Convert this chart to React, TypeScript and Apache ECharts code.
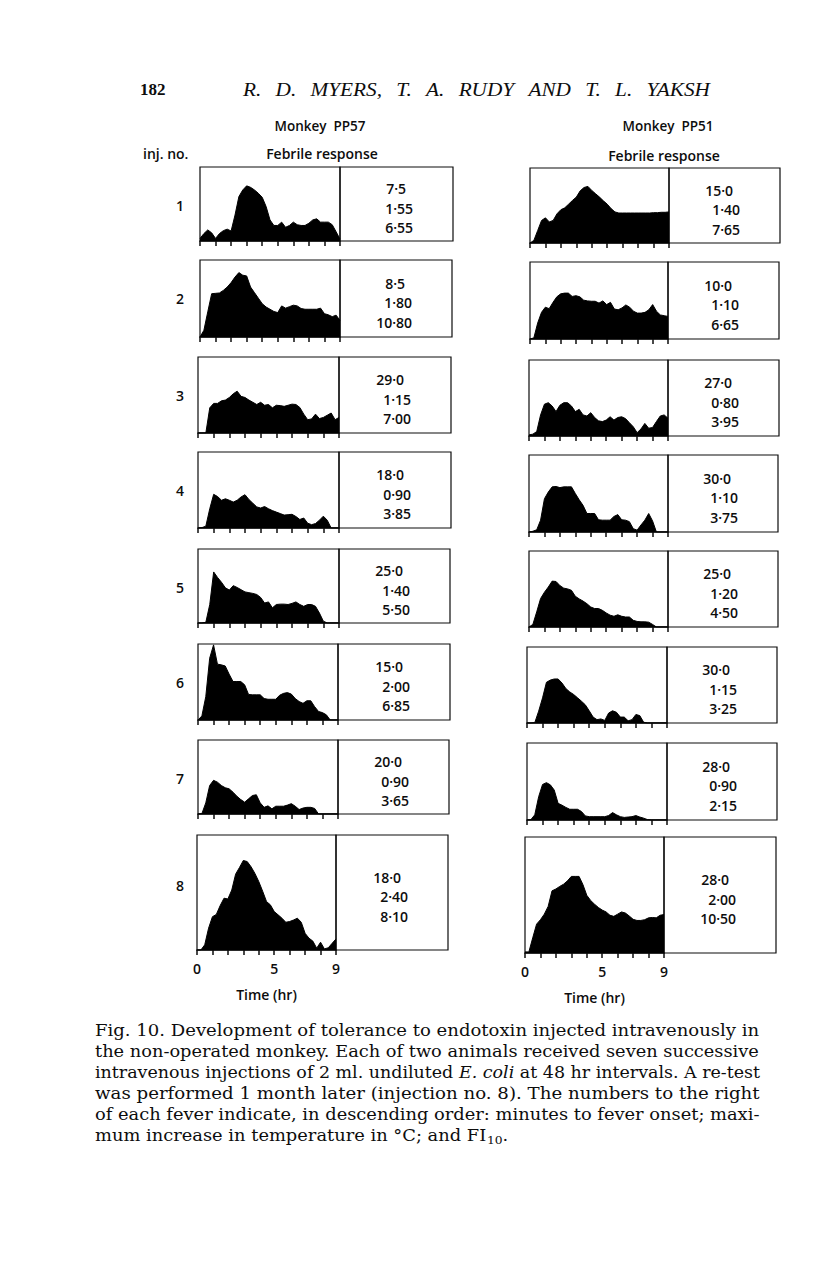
import React, { useEffect, useRef } from "react";
import * as echarts from "echarts";

// ---------- DATA ----------
const TIME_HR = [0, 0.25, 0.5, 0.75, 1, 1.25, 1.5, 1.75, 2, 2.25, 2.5, 2.75, 3, 3.25, 3.5, 3.75, 4, 4.25, 4.5, 4.75, 5, 5.25, 5.5, 5.75, 6, 6.25, 6.5, 6.75, 7, 7.25, 7.5, 7.75, 8, 8.25, 8.5, 8.75, 9];
const HOUR_LABELS = [0, 5, 9];

// Monkey PP57, temperature rise (°C) for injections 1..8
const PP57_1 = [0.07, 0.2, 0.3, 0.22, 0.07, 0.2, 0.28, 0.32, 0.27, 0.7, 1.2, 1.38, 1.49, 1.45, 1.38, 1.29, 1.18, 0.93, 0.57, 0.42, 0.42, 0.51, 0.37, 0.42, 0.51, 0.44, 0.42, 0.42, 0.48, 0.57, 0.6, 0.51, 0.51, 0.51, 0.44, 0.25, 0.05];
const PP57_2 = [0, 0.18, 0.68, 1.17, 1.18, 1.19, 1.26, 1.35, 1.47, 1.62, 1.74, 1.67, 1.65, 1.35, 1.2, 1.05, 0.9, 0.81, 0.75, 0.69, 0.66, 0.84, 0.78, 0.82, 0.86, 0.84, 0.77, 0.75, 0.75, 0.75, 0.75, 0.78, 0.63, 0.6, 0.55, 0.59, 0.45];
const PP57_3 = [0, 0, 0, 0.68, 0.8, 0.8, 0.87, 0.89, 0.96, 1.06, 1.13, 0.99, 0.96, 0.89, 0.83, 0.77, 0.83, 0.75, 0.77, 0.68, 0.75, 0.74, 0.72, 0.75, 0.78, 0.77, 0.69, 0.51, 0.36, 0.38, 0.51, 0.39, 0.42, 0.48, 0.54, 0.36, 0.42];
const PP57_4 = [0, 0.01, 0.05, 0.52, 0.91, 0.85, 0.75, 0.79, 0.75, 0.7, 0.75, 0.84, 0.9, 0.77, 0.67, 0.57, 0.54, 0.58, 0.52, 0.47, 0.43, 0.39, 0.35, 0.36, 0.37, 0.31, 0.23, 0.27, 0.13, 0.09, 0.12, 0.21, 0.32, 0.21, 0, 0, 0];
const PP57_5 = [0, 0, 0.02, 0.5, 1.38, 1.23, 1.1, 0.95, 0.89, 1.01, 0.96, 0.9, 0.84, 0.82, 0.8, 0.77, 0.69, 0.54, 0.57, 0.41, 0.5, 0.51, 0.51, 0.5, 0.53, 0.57, 0.5, 0.45, 0.5, 0.5, 0.45, 0.27, 0.05, 0, 0, 0, 0];
const PP57_6 = [0, 0.11, 0.63, 1.67, 2.03, 1.51, 1.49, 1.46, 1.24, 1.04, 1.04, 1.04, 0.95, 0.69, 0.68, 0.68, 0.68, 0.58, 0.56, 0.56, 0.56, 0.67, 0.72, 0.74, 0.7, 0.58, 0.5, 0.45, 0.52, 0.52, 0.36, 0.23, 0.2, 0.14, 0, 0, 0];
const PP57_7 = [0, 0.01, 0.3, 0.77, 0.91, 0.86, 0.77, 0.71, 0.68, 0.59, 0.48, 0.39, 0.32, 0.41, 0.5, 0.52, 0.3, 0.18, 0.22, 0.14, 0.21, 0.21, 0.21, 0.24, 0.28, 0.21, 0.12, 0.16, 0.18, 0.18, 0.15, 0, 0, 0, 0, 0, 0];
const PP57_8 = [0, 0, 0.14, 0.59, 0.9, 0.96, 1.2, 1.4, 1.38, 1.62, 2.05, 2.23, 2.42, 2.39, 2.25, 2.07, 1.85, 1.59, 1.31, 1.22, 1.04, 0.95, 0.86, 0.75, 0.77, 0.81, 0.86, 0.75, 0.45, 0.32, 0.24, 0.05, 0.21, 0.03, 0.06, 0.18, 0.3];

// Monkey PP51
const PP51_1 = [0, 0.07, 0.34, 0.61, 0.68, 0.57, 0.61, 0.79, 0.9, 0.95, 1.05, 1.15, 1.24, 1.41, 1.5, 1.53, 1.42, 1.33, 1.24, 1.14, 1.05, 0.93, 0.84, 0.81, 0.81, 0.81, 0.81, 0.81, 0.81, 0.81, 0.81, 0.81, 0.82, 0.82, 0.83, 0.83, 0.84];
const PP51_2 = [0, 0.03, 0.43, 0.72, 0.86, 0.82, 0.99, 1.14, 1.22, 1.24, 1.24, 1.15, 1.17, 1.14, 1.05, 1.03, 1.02, 1.02, 0.97, 1.03, 0.93, 0.99, 0.81, 0.79, 0.84, 0.92, 0.86, 0.75, 0.7, 0.7, 0.72, 0.79, 0.93, 0.75, 0.65, 0.63, 0.61];
const PP51_3 = [0.03, 0.05, 0.12, 0.57, 0.86, 0.9, 0.81, 0.66, 0.83, 0.9, 0.9, 0.81, 0.66, 0.72, 0.57, 0.54, 0.63, 0.5, 0.41, 0.39, 0.43, 0.52, 0.43, 0.5, 0.52, 0.47, 0.36, 0.25, 0.09, 0.19, 0.34, 0.21, 0.23, 0.39, 0.54, 0.57, 0.48];
const PP51_4 = [0, 0.02, 0.06, 0.32, 0.9, 1.08, 1.22, 1.23, 1.2, 1.22, 1.22, 1.22, 1.04, 0.87, 0.72, 0.5, 0.5, 0.5, 0.33, 0.32, 0.32, 0.32, 0.42, 0.47, 0.33, 0.32, 0.28, 0.09, 0.05, 0.19, 0.32, 0.5, 0.3, 0, 0, 0, 0];
const PP51_5 = [0, 0.07, 0.41, 0.77, 0.94, 1.08, 1.24, 1.23, 1.12, 1.05, 1.03, 0.99, 0.83, 0.76, 0.7, 0.63, 0.54, 0.5, 0.5, 0.45, 0.38, 0.32, 0.29, 0.33, 0.29, 0.27, 0.27, 0.18, 0.15, 0.14, 0.14, 0.13, 0.07, 0, 0, 0, 0];
const PP51_6 = [0, 0, 0.01, 0.32, 0.68, 1.1, 1.16, 1.19, 1.19, 1.08, 0.93, 0.84, 0.77, 0.68, 0.59, 0.49, 0.33, 0.16, 0.09, 0.11, 0.07, 0.27, 0.33, 0.29, 0.16, 0.16, 0.06, 0.09, 0.23, 0.2, 0.02, 0, 0, 0, 0, 0, 0];
const PP51_7 = [0, 0.01, 0.14, 0.63, 0.96, 1.01, 0.95, 0.81, 0.45, 0.4, 0.34, 0.29, 0.29, 0.29, 0.23, 0.11, 0.09, 0.09, 0.09, 0.09, 0.09, 0.12, 0.2, 0.14, 0.09, 0.07, 0.08, 0.09, 0.12, 0.08, 0.05, 0.01, 0, 0, 0, 0, 0];
const PP51_8 = [0.03, 0.03, 0.41, 0.78, 0.9, 1.05, 1.26, 1.68, 1.73, 1.8, 1.86, 1.95, 2.07, 2.07, 2.07, 1.85, 1.56, 1.42, 1.32, 1.23, 1.16, 1.11, 1.02, 0.99, 1.05, 1.11, 1.08, 1.0, 0.91, 0.88, 0.88, 0.9, 0.95, 0.96, 0.95, 1.02, 1.04];

// Numbers to the right of each fever: minutes to onset; max rise °C; FI10
const PP57_ONSET = [7.5, 8.5, 29.0, 18.0, 25.0, 15.0, 20.0, 18.0];
const PP57_MAXRISE = [1.55, 1.8, 1.15, 0.9, 1.4, 2.0, 0.9, 2.4];
const PP57_FI10 = [6.55, 10.8, 7.0, 3.85, 5.5, 6.85, 3.65, 8.1];
const PP51_ONSET = [15.0, 10.0, 27.0, 30.0, 25.0, 30.0, 28.0, 28.0];
const PP51_MAXRISE = [1.4, 1.1, 0.8, 1.1, 1.2, 1.15, 0.9, 2.0];
const PP51_FI10 = [7.65, 6.65, 3.95, 3.75, 4.5, 3.25, 2.15, 10.5];

const INJ_NO = ["1", "2", "3", "4", "5", "6", "7", "8"];

// caption lines: [roman part, italic part, roman part]
const CAPTION = [
  ["Fig. 10. Development of tolerance to endotoxin injected intravenously in", "", ""],
  ["the non-operated monkey. Each of two animals received seven successive", "", ""],
  ["intravenous injections of 2 ml. undiluted ", "E. coli", " at 48 hr intervals. A re-test"],
  ["was performed 1 month later (injection no. 8). The numbers to the right", "", ""],
  ["of each fever indicate, in descending order: minutes to fever onset; maxi-", "", ""],
];
const CAPTION_LAST = "mum increase in temperature in °C; and FI";

// ---------- LAYOUT (px): top, baseline, chartLeft, chartRight, boxRight ----------
const LEFT_LAYOUT = [
  [167, 241, 200, 340, 453],
  [260, 337, 200, 340, 452],
  [357, 433, 198, 339, 451],
  [452, 528, 198, 339, 451],
  [549, 623, 198, 339, 450],
  [644, 720, 198, 338, 450],
  [740, 814, 198, 338, 449],
  [835, 950, 197, 336, 448],
];
const RIGHT_LAYOUT = [
  [168, 243, 530, 669, 780],
  [262, 339, 530, 668, 779],
  [360, 436, 529, 668, 779],
  [455, 532, 529, 668, 778],
  [551, 627, 529, 668, 778],
  [647, 723, 527, 667, 777],
  [743, 820, 527, 667, 777],
  [837, 953, 525, 664, 776],
];
const PX_PER_DEG = 37;

const SANS = "'Open Sans', 'DejaVu Sans', sans-serif";
const SERIF = "'DejaVu Serif', serif";

function fmt(v: number, d: number) {
  return v.toFixed(d).replace(".", "·");
}

function txt(text: string, x: number, y: number, font: string, align = "left", extra: any = {}, rich?: any) {
  const style: any = {
    text,
    font,
    fill: "#0d0d0d",
    textAlign: align,
    textVerticalAlign: "middle",
    align,
    verticalAlign: "middle",
  };
  if (rich) style.rich = rich;
  return { type: "text", x, y, silent: true, ...extra, style };
}

export default function App() {
  const ref = useRef<HTMLDivElement>(null);
  useEffect(() => {
    const chart = echarts.init(ref.current!, null, { renderer: "svg" });
    const ctx = document.createElement("canvas").getContext("2d")!;
    const measure = (t: string, f: string) => {
      ctx.font = f;
      return ctx.measureText(t).width;
    };

    const panels = [
      { data: [PP57_1, PP57_2, PP57_3, PP57_4, PP57_5, PP57_6, PP57_7, PP57_8], layout: LEFT_LAYOUT, onset: PP57_ONSET, rise: PP57_MAXRISE, fi: PP57_FI10 },
      { data: [PP51_1, PP51_2, PP51_3, PP51_4, PP51_5, PP51_6, PP51_7, PP51_8], layout: RIGHT_LAYOUT, onset: PP51_ONSET, rise: PP51_MAXRISE, fi: PP51_FI10 },
    ];

    const grid: any[] = [];
    const xAxis: any[] = [];
    const yAxis: any[] = [];
    const series: any[] = [];
    const graphic: any[] = [];
    const numFont = `600 14px ${SANS}`;

    panels.forEach((col, c) => {
      col.data.forEach((vals, i) => {
        const [top, base, x0, x1, x2] = col.layout[i];
        const idx = grid.length;
        const last = i === col.data.length - 1;
        grid.push({
          left: x0,
          top,
          width: x1 - x0,
          height: base - top,
          show: true,
          borderColor: "#0d0d0d",
          borderWidth: 1.2,
        });
        xAxis.push({
          gridIndex: idx,
          type: "value",
          min: 0,
          max: 9,
          interval: 1,
          axisLine: { show: true, onZero: false, lineStyle: { color: "#0d0d0d", width: 1.5 } },
          axisTick: { show: true, length: 5, lineStyle: { color: "#0d0d0d", width: 1.5 } },
          splitLine: { show: false },
          axisLabel: {
            show: last,
            margin: 11,
            fontFamily: SANS,
            fontWeight: 600,
            fontSize: 14,
            color: "#0d0d0d",
            formatter: (v: number) => (HOUR_LABELS.includes(v) ? String(v) : ""),
          },
          name: last ? "Time (hr)" : "",
          nameLocation: "middle",
          nameGap: 37,
          nameTextStyle: { fontFamily: SANS, fontWeight: 600, fontSize: 14, color: "#0d0d0d" },
        });
        yAxis.push({
          gridIndex: idx,
          type: "value",
          min: 0,
          max: (base - top) / PX_PER_DEG,
          show: false,
        });
        series.push({
          type: "line",
          xAxisIndex: idx,
          yAxisIndex: idx,
          data: TIME_HR.map((t, k) => [t, vals[k]]),
          symbol: "none",
          silent: true,
          lineStyle: { color: "#000", width: 1 },
          areaStyle: { color: "#000", opacity: 1 },
        });
        // numbers box
        graphic.push({
          type: "rect",
          silent: true,
          shape: { x: x1, y: top, width: x2 - x1, height: base - top },
          style: { fill: "none", stroke: "#0d0d0d", lineWidth: 1.2 },
        });
        const R = x2 - 40;
        const mid = (top + base) / 2 + 4;
        graphic.push(txt(fmt(col.onset[i], 1), R - 7, mid - 19.5, numFont, "right"));
        graphic.push(txt(fmt(col.rise[i], 2), R, mid, numFont, "right"));
        graphic.push(txt(fmt(col.fi[i], 2), R, mid + 19.5, numFont, "right"));
        if (c === 0) {
          graphic.push(txt(INJ_NO[i], 180, top + (last ? 50 : 38), `600 14px ${SANS}`, "center"));
        }
      });
    });

    // headings
    graphic.push(txt("182", 140, 89, `bold 17px 'Liberation Serif', serif`, "left"));
    const hdrFont = `italic 19px 'Liberation Serif', serif`;
    const words = ["R.", "D.", "MYERS,", "T.", "A.", "RUDY", "AND", "T.", "L.", "YAKSH"];
    const sx = 1.12;
    const ws = words.map((w) => measure(w, hdrFont) * sx);
    const totalW = ws.reduce((a, b) => a + b, 0);
    const gap = (710 - 243 - totalW) / (words.length - 1);
    let hx = 243;
    words.forEach((w, k) => {
      graphic.push(txt(w, hx, 89, hdrFont, "left", { scaleX: sx }));
      hx += ws[k] + gap;
    });
    graphic.push(txt("Monkey  PP57", 320, 126, `600 13.5px ${SANS}`, "center"));
    graphic.push(txt("Monkey  PP51", 668, 126, `600 13.5px ${SANS}`, "center"));
    graphic.push(txt("inj. no.", 143, 153, `600 14px ${SANS}`, "left"));
    graphic.push(txt("Febrile response", 322, 153, `600 14px ${SANS}`, "center"));
    graphic.push(txt("Febrile response", 664, 155, `600 14px ${SANS}`, "center"));

    // caption
    const capSize = 16;
    const capFont = `${capSize}px ${SERIF}`;
    const capItal = `italic ${capSize}px ${SERIF}`;
    const capL = 95;
    const capR = 760;
    const capY0 = 1030;
    const capDy = 21;
    const scales: number[] = [];
    CAPTION.forEach(([a, b, cpart], k) => {
      const w = measure(a, capFont) + measure(b, capItal) + measure(cpart, capFont);
      const s = (capR - capL) / w;
      scales.push(s);
      const text = b ? `${a}{i|${b}}${cpart}` : a;
      const rich = b ? { i: { font: capItal, fill: "#0d0d0d" } } : undefined;
      graphic.push(txt(text, capL, capY0 + k * capDy, capFont, "left", { scaleX: s }, rich));
    });
    const avgS = scales.reduce((a, b) => a + b, 0) / scales.length;
    const ly = capY0 + CAPTION.length * capDy;
    graphic.push(txt(CAPTION_LAST, capL, ly, capFont, "left", { scaleX: avgS }));
    const lw = measure(CAPTION_LAST, capFont) * avgS;
    graphic.push(txt("10", capL + lw, ly + 5, `11px ${SERIF}`, "left", { scaleX: avgS }));
    const sw = measure("10", `11px ${SERIF}`) * avgS;
    graphic.push(txt(".", capL + lw + sw, ly, capFont, "left", { scaleX: avgS }));

    chart.setOption({
      animation: false,
      backgroundColor: "#fff",
      grid,
      xAxis,
      yAxis,
      series,
      graphic: { elements: graphic },
    });
    return () => chart.dispose();
  }, []);
  return (
    <div
      ref={ref}
      style={{ position: "absolute", left: 0, top: 0, width: 816, height: 1281, background: "#fff" }}
    />
  );
}
